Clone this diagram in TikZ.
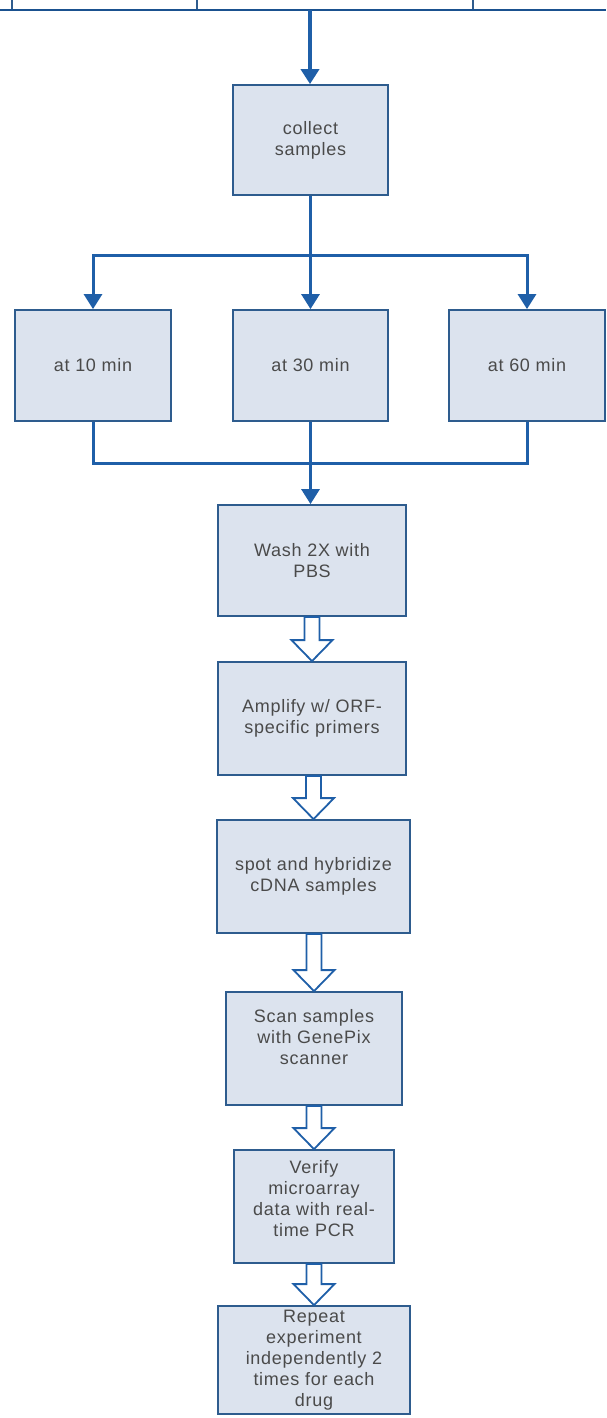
\documentclass[tikz,border=0pt]{standalone}
\usepackage{fontspec}
\setmainfont[LetterSpace=4]{Liberation Sans}
\usetikzlibrary{arrows.meta,calc}
\definecolor{lineblue}{HTML}{1F5FA8}
\definecolor{boxedge}{HTML}{2E5C8E}
\definecolor{boxfill}{HTML}{DCE3EE}
\definecolor{txt}{HTML}{4A4A4A}
\newcommand{\hollowarrow}[2]{%
  \draw[harr] let \p1=(#1.south), \p2=(#2.north) in
    (\x2-7.5pt,\y1) -- (\x2-7.5pt,\y2+21pt) -- (\x2-20.5pt,\y2+21pt) --
    (\x2,\y2) -- (\x2+20.5pt,\y2+21pt) -- (\x2+7.5pt,\y2+21pt) --
    (\x2+7.5pt,\y1) -- cycle;}
\newcommand{\liftedlines}[2]{\raisebox{#1}[0pt][0pt]{\begin{tabular}{@{}c@{}}#2\end{tabular}}}
\begin{document}
\begin{tikzpicture}[x=1pt,y=-1pt,
  stepbox/.style={draw=boxedge,fill=boxfill,line width=1.8pt,inner sep=0pt,
    align=center,text=txt,font=\fontsize{18}{21}\selectfont},
  conn/.style={draw=lineblue,line width=3pt},
  fatconn/.style={draw=lineblue,line width=4.5pt},
  tipped/.style={-{Triangle[length=15pt,width=18pt]}},
  harr/.style={draw=lineblue,fill=white,line width=1.8pt,line join=miter}]
\useasboundingbox (0,0) rectangle (606,1418);

% partial boxes at the top
\draw[boxedge,line width=1.3pt] (12,0) -- (12,10) (197,0) -- (197,10) (473,0) -- (473,10);
\draw[lineblue!85!black,line width=2.6pt] (0,10) -- (606,10);
\coordinate (topc) at (310,10);

\node[stepbox,minimum width=155pt,minimum height=110pt] (collect) at (310.5,140) {collect\\samples};
\node[stepbox,minimum width=156pt,minimum height=111pt] (t10) at (93,365.5) {at 10 min};
\node[stepbox,minimum width=155pt,minimum height=111pt] (t30) at (310.5,365.5) {at 30 min};
\node[stepbox,minimum width=156pt,minimum height=111pt] (t60) at (527,365.5) {at 60 min};
\node[stepbox,minimum width=188pt,minimum height=111pt] (wash) at (312,560.5) {Wash 2X with\\PBS};
\node[stepbox,minimum width=188pt,minimum height=113pt] (amp) at (312,718.5) {Amplify w/ ORF-\\specific primers};
\node[stepbox,minimum width=193pt,minimum height=113pt] (spot) at (313.5,876.5) {spot and hybridize\\cDNA samples};
\node[stepbox,minimum width=176pt,minimum height=113pt] (scan) at (314,1048.5) {\liftedlines{4.5pt}{Scan samples\\with GenePix\\scanner}};
\node[stepbox,minimum width=160pt,minimum height=113pt] (verify) at (314,1206.5) {\liftedlines{1.5pt}{Verify\\microarray\\data with real-\\time PCR}};
\node[stepbox,minimum width=192pt,minimum height=108pt] (repeat) at (314,1360) {Repeat\\experiment\\independently 2\\times for each\\drug};

\draw[fatconn,tipped] (topc) -- (topc |- collect.north);

\coordinate (split) at (310.5,255);
\draw[conn,tipped] (split) -| (t10.north);
\draw[conn,tipped] (split) -| (t60.north);
\draw[conn,tipped] (collect.south) -- (t30.north);

\coordinate (merge) at (310.5,463);
\draw[conn] (t10.south) |- (merge);
\draw[conn] (t60.south) |- (merge);
\draw[conn,tipped] (t30.south) -- (t30.south |- wash.north);

\hollowarrow{wash}{amp}
\hollowarrow{amp}{spot}
\hollowarrow{spot}{scan}
\hollowarrow{scan}{verify}
\hollowarrow{verify}{repeat}
\end{tikzpicture}
\end{document}
